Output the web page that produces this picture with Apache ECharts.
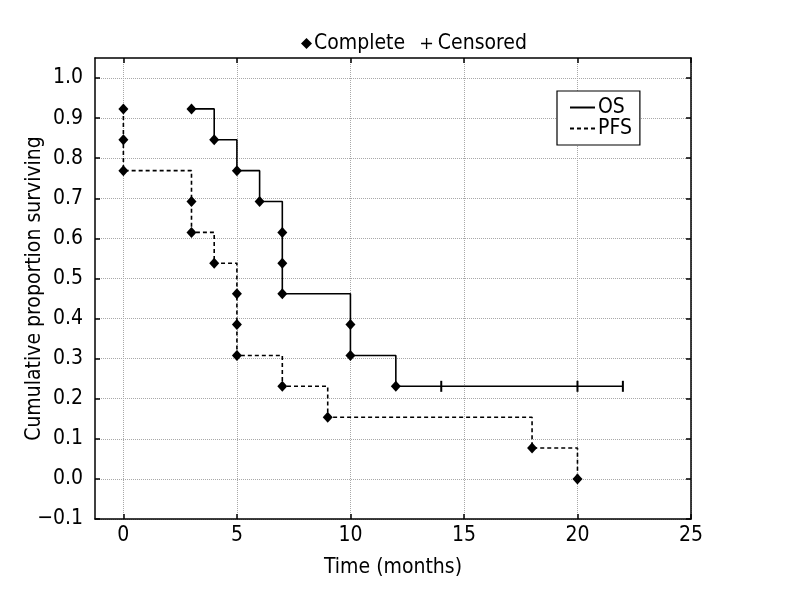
<!DOCTYPE html>
<html>
<head>
<meta charset="utf-8">
<script src="https://cdn.jsdelivr.net/npm/echarts@6/dist/echarts.min.js"></script>
<style>html,body{margin:0;padding:0;background:#fff;}#c{width:792px;height:600px;}</style>
</head>
<body>
<div id="c"></div>
<script>
// Kaplan-Meier data (time in months, cumulative proportion surviving)
var osTimes = [3, 4, 5, 6, 7, 7, 7, 10, 10, 12];
var osSurv  = [0.923, 0.846, 0.769, 0.692, 0.615, 0.538, 0.462, 0.385, 0.308, 0.231];
var osEndTime = 22;
var osCensTimes = [14, 20, 22];
var osCensSurv  = [0.231, 0.231, 0.231];

var pfsTimes = [0, 0, 0, 3, 3, 4, 5, 5, 5, 7, 9, 18, 20];
var pfsSurv  = [0.923, 0.846, 0.769, 0.692, 0.615, 0.538, 0.462, 0.385, 0.308, 0.231, 0.154, 0.077, 0.0];

var xTicks = [0, 5, 10, 15, 20, 25];
var yTicks = [-0.1, 0, 0.1, 0.2, 0.3, 0.4, 0.5, 0.6, 0.7, 0.8, 0.9, 1.0];

var FONT = '"Liberation Sans Narrow", "DejaVu Sans Condensed", "Liberation Sans", sans-serif';

function pairs(xs, ys) { return xs.map(function (x, i) { return [x, ys[i]]; }); }

var osLine = pairs(osTimes, osSurv).concat([[osEndTime, osSurv[osSurv.length - 1]]]);
var pfsLine = pairs(pfsTimes, pfsSurv);

var gridLine = { show: true, lineStyle: { color: '#a8a8a8', type: 'dotted', width: 1 } };
var frame = { show: true, onZero: false, lineStyle: { color: '#000', width: 1.5 } };
function yFmt(v) { return v < 0 ? '\u2212' + Math.abs(v).toFixed(1) : v.toFixed(1); }

var chart = echarts.init(document.getElementById('c'), null, { renderer: 'canvas' });
chart.setOption({
  animation: false,
  backgroundColor: '#fff',
  textStyle: { fontFamily: FONT },
  grid: { left: 95, right: 101, top: 58, bottom: 81, containLabel: false },
  legend: [
    {
      data: [
        { name: 'Complete', icon: 'diamond' },
        { name: 'Censored', icon: 'path://M4.4,0 H5.6 V4.4 H10 V5.6 H5.6 V10 H4.4 V5.6 H0 V4.4 H4.4 Z' }
      ],
      formatter: function (n) { return n === 'Censored' ? '\u2009' + n : n; },
      left: 296, top: 28, itemWidth: 11, itemHeight: 11, itemGap: 16,
      textStyle: { fontFamily: FONT, fontSize: 21, color: '#000', padding: [0, 0, 0, -3] },
      selectedMode: false
    },
    {
      data: ['OS', 'PFS'],
      orient: 'vertical', left: 557, top: 91,
      padding: [6, 8, 6, 12], itemGap: 0, itemWidth: 25, itemHeight: 14,
      borderColor: '#000', borderWidth: 1.2, backgroundColor: '#fff',
      itemStyle: { opacity: 0 },
      textStyle: { fontFamily: FONT, fontSize: 21, color: '#000', lineHeight: 20, padding: [0, 0, 0, -2] },
      selectedMode: false
    }
  ],
  xAxis: [
    {
      type: 'value', min: -1.25, max: 25,
      name: 'Time (months)', nameLocation: 'middle', nameGap: 38, nameMoveOverlap: false,
      nameTextStyle: { fontFamily: FONT, fontSize: 21, color: '#000' },
      axisLine: frame,
      axisTick: { show: true, inside: true, length: 5, customValues: xTicks, lineStyle: { color: '#000', width: 1.5 } },
      axisLabel: { customValues: xTicks, margin: 6, fontFamily: FONT, fontSize: 21, color: '#000' },
      splitLine: gridLine
    },
    {
      type: 'value', min: -1.25, max: 25, position: 'top',
      axisLine: frame,
      axisTick: { show: true, inside: true, length: 5, customValues: xTicks, lineStyle: { color: '#000', width: 1.5 } },
      axisLabel: { show: false, customValues: xTicks },
      splitLine: { show: false }
    }
  ],
  yAxis: [
    {
      type: 'value', min: -0.1, max: 1.05,
      name: 'Cumulative proportion surviving', nameLocation: 'middle', nameGap: 50, nameMoveOverlap: false,
      nameTextStyle: { fontFamily: FONT, fontSize: 21, color: '#000' },
      axisLine: frame,
      axisTick: { show: true, inside: true, length: 5, customValues: yTicks, lineStyle: { color: '#000', width: 1.5 } },
      axisLabel: { customValues: yTicks, margin: 12, formatter: yFmt, fontFamily: FONT, fontSize: 21, color: '#000' },
      splitLine: gridLine
    },
    {
      type: 'value', min: -0.1, max: 1.05, position: 'right',
      axisLine: frame,
      axisTick: { show: true, inside: true, length: 5, customValues: yTicks, lineStyle: { color: '#000', width: 1.5 } },
      axisLabel: { show: false, customValues: yTicks },
      splitLine: { show: false }
    }
  ],
  series: [
    {
      name: 'OS', type: 'line', step: 'end', data: osLine,
      symbol: 'none', showSymbol: false,
      lineStyle: { color: '#000', width: 1.6, type: 'solid' },
      itemStyle: { color: '#000' }, z: 2
    },
    {
      name: 'PFS', type: 'line', step: 'end', data: pfsLine,
      symbol: 'none', showSymbol: false,
      lineStyle: { color: '#000', width: 1.6, type: [4, 3] },
      itemStyle: { color: '#000' }, z: 2
    },
    {
      name: 'Complete', type: 'scatter', data: pairs(osTimes, osSurv),
      symbol: 'diamond', symbolSize: [10, 11], itemStyle: { color: '#000', opacity: 1 }, z: 3
    },
    {
      name: 'Complete', type: 'scatter', data: pairs(pfsTimes, pfsSurv),
      symbol: 'diamond', symbolSize: [10, 11], itemStyle: { color: '#000', opacity: 1 }, z: 3
    },
    {
      name: 'Censored', type: 'scatter', data: pairs(osCensTimes, osCensSurv),
      symbol: 'rect', symbolSize: [2, 11], itemStyle: { color: '#000', opacity: 1 }, z: 3
    }
  ]
});
</script>
</body>
</html>
